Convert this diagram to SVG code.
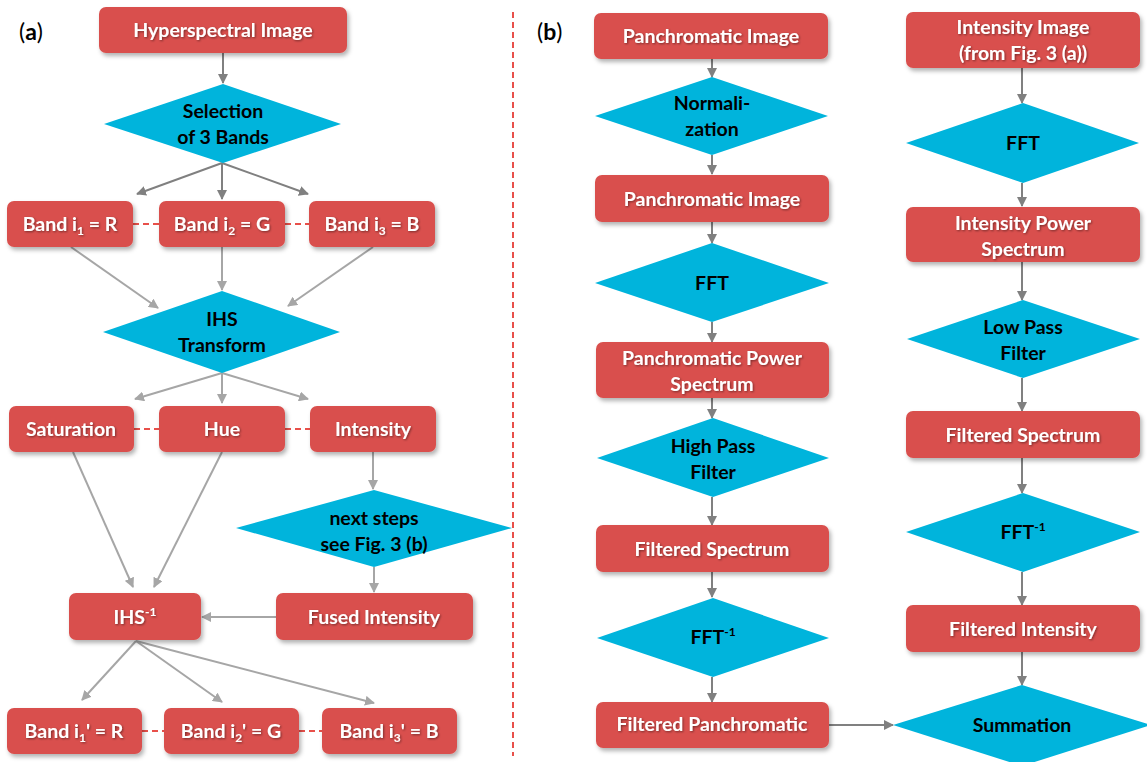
<svg xmlns="http://www.w3.org/2000/svg" width="1147" height="762" viewBox="0 0 1147 762">
<style>
.box{fill:#d9504d;filter:url(#sh)}
.dia{fill:#00b4dc}
.wt{font-family:Lato,"Liberation Sans",sans-serif;font-weight:700;font-size:19.5px;fill:#ffffff;text-anchor:middle;filter:url(#tsh)}
.bt{font-family:Lato,"Liberation Sans",sans-serif;font-weight:700;font-size:19.5px;fill:#000000;text-anchor:middle}
.lbl{font-family:Lato,"Liberation Sans",sans-serif;font-size:23px;fill:#000}
.ar{stroke:#808080;stroke-width:2;fill:none;marker-end:url(#ah)}
.al{stroke:#a6a6a6;stroke-width:2;fill:none;marker-end:url(#ahl)}
.dash{stroke:#e8504a;stroke-width:2;stroke-dasharray:6,4;fill:none}
.sub{font-size:12px}
</style>
<defs>
<filter id="sh" x="-10%" y="-20%" width="125%" height="150%">
<feDropShadow dx="2" dy="3" stdDeviation="2" flood-color="#000" flood-opacity="0.3"/>
</filter>
<filter id="tsh" x="-10%" y="-30%" width="120%" height="160%">
<feDropShadow dx="1" dy="1" stdDeviation="0.8" flood-color="#000" flood-opacity="0.45"/>
</filter>
<marker id="ah" markerWidth="10" markerHeight="10" refX="9" refY="5" orient="auto" markerUnits="userSpaceOnUse">
<path d="M0,0 L10,5 L0,10 Z" fill="#808080"/>
</marker>
<marker id="ahl" markerWidth="10" markerHeight="10" refX="9" refY="5" orient="auto" markerUnits="userSpaceOnUse">
<path d="M0,0 L10,5 L0,10 Z" fill="#a6a6a6"/>
</marker>
</defs>

<text class="lbl" x="19" y="40">(<tspan font-weight="700">a</tspan>)</text>
<text class="lbl" x="537" y="40">(<tspan font-weight="700">b</tspan>)</text>
<line x1="513" y1="12" x2="513" y2="756" class="dash" stroke-dasharray="8,5"/>

<g id="connectors">
<line class="ar" x1="223" y1="53" x2="223" y2="83"/>
<line class="ar" x1="222" y1="163" x2="137" y2="194"/>
<line class="ar" x1="222" y1="163" x2="222" y2="199"/>
<line class="ar" x1="222" y1="163" x2="308" y2="194"/>
<line class="dash" x1="133" y1="224" x2="159" y2="224"/>
<line class="dash" x1="285" y1="224" x2="309" y2="224"/>
<line class="al" x1="71" y1="247" x2="158" y2="308"/>
<line class="al" x1="222" y1="247" x2="222" y2="290"/>
<line class="al" x1="373" y1="247" x2="288" y2="306"/>
<line class="al" x1="222" y1="373" x2="135" y2="399"/>
<line class="al" x1="222" y1="373" x2="222" y2="403"/>
<line class="al" x1="222" y1="373" x2="308" y2="399"/>
<line class="dash" x1="134" y1="429" x2="159" y2="429"/>
<line class="dash" x1="285" y1="429" x2="310" y2="429"/>
<line class="al" x1="73" y1="452" x2="133" y2="587"/>
<line class="al" x1="222" y1="452" x2="154" y2="587"/>
<line class="al" x1="373" y1="452" x2="373" y2="489"/>
<line class="al" x1="374" y1="567" x2="374" y2="592"/>
<line class="al" x1="276" y1="617" x2="202" y2="617"/>
<line class="al" x1="136" y1="641" x2="82" y2="700"/>
<line class="al" x1="136" y1="641" x2="222" y2="702"/>
<line class="al" x1="136" y1="641" x2="374" y2="703"/>
<line class="dash" x1="142" y1="731" x2="164" y2="731"/>
<line class="dash" x1="299" y1="731" x2="322" y2="731"/>

<line class="ar" x1="712" y1="59" x2="712" y2="77"/>
<line class="ar" x1="712" y1="155" x2="712" y2="174"/>
<line class="ar" x1="712" y1="222" x2="712" y2="243"/>
<line class="ar" x1="712" y1="322" x2="712" y2="342"/>
<line class="ar" x1="712" y1="398" x2="712" y2="418"/>
<line class="ar" x1="712" y1="497" x2="712" y2="525"/>
<line class="ar" x1="712" y1="572" x2="712" y2="597"/>
<line class="ar" x1="712" y1="677" x2="712" y2="702"/>
<line class="ar" x1="829" y1="725" x2="893" y2="725"/>
<line class="ar" x1="1022" y1="68" x2="1022" y2="103"/>
<line class="ar" x1="1022" y1="183" x2="1022" y2="206"/>
<line class="ar" x1="1022" y1="262" x2="1022" y2="300"/>
<line class="ar" x1="1022" y1="378" x2="1022" y2="411"/>
<line class="ar" x1="1022" y1="458" x2="1022" y2="493"/>
<line class="ar" x1="1022" y1="572" x2="1022" y2="605"/>
<line class="ar" x1="1022" y1="652" x2="1022" y2="685"/>
</g>

<g id="hyperspectral"><rect class="box" x="99" y="7" width="248" height="46" rx="7"/><text class="wt" x="223" y="37">Hyperspectral Image</text></g>
<g id="selection"><polygon class="dia" points="223,84 341,124 223,163 104,124"/><text class="bt" x="223" y="118">Selection</text><text class="bt" x="223" y="144">of 3 Bands</text></g>
<g id="band1"><rect class="box" x="7" y="201" width="126" height="46" rx="7"/><text class="wt" x="70" y="231">Band i<tspan class="sub" dy="4">1</tspan><tspan dy="-4"> = R</tspan></text></g>
<g id="band2"><rect class="box" x="159" y="201" width="126" height="46" rx="7"/><text class="wt" x="222" y="231">Band i<tspan class="sub" dy="4">2</tspan><tspan dy="-4"> = G</tspan></text></g>
<g id="band3"><rect class="box" x="309" y="201" width="126" height="46" rx="7"/><text class="wt" x="372" y="231">Band i<tspan class="sub" dy="4">3</tspan><tspan dy="-4"> = B</tspan></text></g>
<g id="ihs"><polygon class="dia" points="222,291 340,332 222,373 103,332"/><text class="bt" x="222" y="326">IHS</text><text class="bt" x="222" y="352">Transform</text></g>
<g id="saturation"><rect class="box" x="9" y="406" width="125" height="46" rx="7"/><text class="wt" x="71" y="436">Saturation</text></g>
<g id="hue"><rect class="box" x="159" y="406" width="126" height="46" rx="7"/><text class="wt" x="222" y="436">Hue</text></g>
<g id="intensity"><rect class="box" x="310" y="406" width="126" height="46" rx="7"/><text class="wt" x="373" y="436">Intensity</text></g>
<g id="nextsteps"><polygon class="dia" points="374,490 512,528 374,567 236,528"/><text class="bt" x="374" y="525">next steps</text><text class="bt" x="374" y="551">see Fig. 3 (b)</text></g>
<g id="ihsinv"><rect class="box" x="69" y="593" width="132" height="47" rx="7"/><text class="wt" x="135" y="624">IHS<tspan class="sub" dy="-8">-1</tspan></text></g>
<g id="fused"><rect class="box" x="276" y="593" width="197" height="47" rx="7"/><text class="wt" x="374" y="624">Fused Intensity</text></g>
<g id="band1p"><rect class="box" x="7" y="708" width="135" height="46" rx="7"/><text class="wt" x="74" y="738">Band i<tspan class="sub" dy="4">1</tspan><tspan dy="-4">' = R</tspan></text></g>
<g id="band2p"><rect class="box" x="164" y="708" width="135" height="46" rx="7"/><text class="wt" x="231" y="738">Band i<tspan class="sub" dy="4">2</tspan><tspan dy="-4">' = G</tspan></text></g>
<g id="band3p"><rect class="box" x="322" y="708" width="135" height="46" rx="7"/><text class="wt" x="389" y="738">Band i<tspan class="sub" dy="4">3</tspan><tspan dy="-4">' = B</tspan></text></g>

<g id="pan1"><rect class="box" x="594" y="13" width="234" height="46" rx="7"/><text class="wt" x="711" y="43">Panchromatic Image</text></g>
<g id="normalization"><polygon class="dia" points="712,77 828,116 712,155 595,116"/><text class="bt" x="712" y="110">Normali-</text><text class="bt" x="712" y="136">zation</text></g>
<g id="pan2"><rect class="box" x="595" y="175" width="234" height="47" rx="7"/><text class="wt" x="712" y="206">Panchromatic Image</text></g>
<g id="fft1"><polygon class="dia" points="712,243 829,283 712,322 595,283"/><text class="bt" x="712" y="290">FFT</text></g>
<g id="panpower"><rect class="box" x="596" y="342" width="233" height="56" rx="7"/><text class="wt" x="712" y="365">Panchromatic Power</text><text class="wt" x="712" y="391">Spectrum</text></g>
<g id="highpass"><polygon class="dia" points="713,418 829,458 713,497 597,458"/><text class="bt" x="713" y="453">High Pass</text><text class="bt" x="713" y="479">Filter</text></g>
<g id="filtspec1"><rect class="box" x="596" y="525" width="233" height="47" rx="7"/><text class="wt" x="712" y="556">Filtered Spectrum</text></g>
<g id="fftinv1"><polygon class="dia" points="713,598 829,638 713,677 597,638"/><text class="bt" x="713" y="644">FFT<tspan class="sub" dy="-8">-1</tspan></text></g>
<g id="filtpan"><rect class="box" x="596" y="702" width="233" height="46" rx="7"/><text class="wt" x="712" y="731">Filtered Panchromatic</text></g>

<g id="intimg"><rect class="box" x="906" y="12" width="234" height="56" rx="7"/><text class="wt" x="1023" y="34">Intensity Image</text><text class="wt" x="1023" y="60">(from Fig. 3 (a))</text></g>
<g id="fft2"><polygon class="dia" points="1023,103 1139,143 1023,183 906,143"/><text class="bt" x="1023" y="150">FFT</text></g>
<g id="intpower"><rect class="box" x="906" y="207" width="234" height="55" rx="7"/><text class="wt" x="1023" y="230">Intensity Power</text><text class="wt" x="1023" y="256">Spectrum</text></g>
<g id="lowpass"><polygon class="dia" points="1023,300 1140,339 1023,378 907,339"/><text class="bt" x="1023" y="334">Low Pass</text><text class="bt" x="1023" y="360">Filter</text></g>
<g id="filtspec2"><rect class="box" x="906" y="411" width="234" height="47" rx="7"/><text class="wt" x="1023" y="442">Filtered Spectrum</text></g>
<g id="fftinv2"><polygon class="dia" points="1023,493 1140,532 1023,572 906,532"/><text class="bt" x="1023" y="539">FFT<tspan class="sub" dy="-8">-1</tspan></text></g>
<g id="filtint"><rect class="box" x="906" y="605" width="234" height="47" rx="7"/><text class="wt" x="1023" y="636">Filtered Intensity</text></g>
<g id="summation"><polygon class="dia" points="1022,685 1151,725 1022,766 893,725"/><text class="bt" x="1022" y="732">Summation</text></g>
</svg>
